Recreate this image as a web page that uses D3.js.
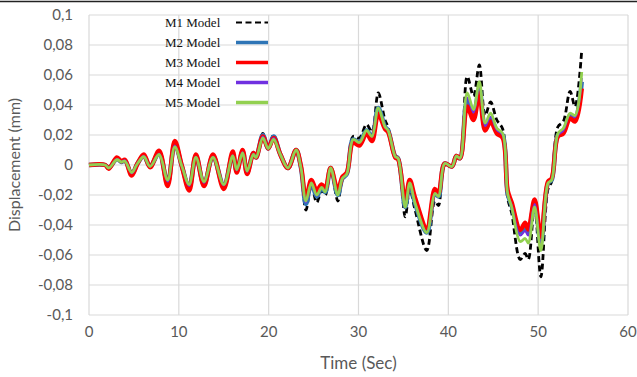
<!DOCTYPE html>
<html>
<head>
<meta charset="utf-8">
<script src="https://cdnjs.cloudflare.com/ajax/libs/d3/7.8.5/d3.min.js"></script>
<style>
  body { margin: 0; background: #fff; }
  svg { display: block; }
</style>
</head>
<body>
<div id="chart"></div>
<script>
// time points (sec)
const time = [0, 1.8, 2.2, 3.1, 3.6, 4.0, 4.75, 5.4, 6.1, 6.8, 7.8, 8.75, 9.55, 10.35, 11.15, 11.9, 12.8, 13.8, 15.0, 16.0,
  16.45, 17.1, 17.6, 18.3, 18.6, 19.35, 19.95, 20.55, 21.3, 22.15, 23.05, 23.6, 24.15, 24.75, 25.35, 25.9, 26.3, 26.9, 27.7, 28.2,
  28.7, 29.4, 30.1, 30.9, 31.5, 32.2, 32.95, 33.3, 34.1, 34.4, 35.2, 35.7, 36.3, 37.6, 38.5, 38.9, 39.6, 40.4, 40.9, 41.3,
  42.1, 42.8, 43.45, 44.1, 44.7, 45.4, 46.05, 46.6, 47.05, 48.0, 48.55, 48.9, 49.6, 50.3, 51.1, 51.5, 52.2, 52.8, 53.55, 54.1, 54.85];

const m1 = [0, 0, -0.002, 0.004, 0.002, 0.003, -0.006, 0.001, 0.006, -0.001, 0.008, -0.012, 0.014, -0.001, -0.015, 0.006, -0.013, 0.006, -0.015, 0.007,
  -0.004, 0.009, -0.005, 0.008, 0.005, 0.021, 0.011, 0.020, 0.007, -0.002, 0.010, -0.003, -0.030, -0.013, -0.025, -0.017, -0.020, -0.002, -0.024, -0.010,
  -0.006, 0.019, 0.018, 0.027, 0.022, 0.048, 0.030, 0.025, 0.006, 0.005, -0.0345, -0.016, -0.030, -0.057, -0.024, -0.027, 0.0, -0.001, 0.006, 0.0045,
  0.059, 0.046, 0.0667, 0.033, 0.042, 0.030, 0.024, -0.022, -0.032, -0.063, -0.059, -0.063, -0.027, -0.0745, -0.016, -0.011, 0.0255, 0.029, 0.049, 0.039, 0.0767];

const m2 = [0, 0, -0.002, 0.004, 0.002, 0.003, -0.006, 0.001, 0.006, -0.001, 0.008, -0.012, 0.014, -0.001, -0.015, 0.006, -0.013, 0.006, -0.014, 0.007,
  -0.004, 0.009, -0.005, 0.008, 0.005, 0.020, 0.011, 0.019, 0.007, -0.002, 0.010, -0.002, -0.026, -0.012, -0.021, -0.015, -0.018, -0.002, -0.020, -0.009,
  -0.006, 0.017, 0.015, 0.023, 0.019, 0.038, 0.0255, 0.023, 0.0055, 0.0045, -0.028, -0.012, -0.0255, -0.045, -0.019, -0.021, 0.001, -0.001, 0.006, 0.0045,
  0.043, 0.034, 0.051, 0.025, 0.031, 0.023, 0.020, -0.019, -0.027, -0.045, -0.041, -0.045, -0.025, -0.052, -0.012, -0.010, 0.020, 0.022, 0.033, 0.031, 0.0555];

const m3 = [0, 0, -0.0025, 0.005, 0.0025, 0.0035, -0.007, 0.001, 0.007, -0.0015, 0.0095, -0.014, 0.016, -0.001, -0.017, 0.007, -0.014, 0.007, -0.016, 0.009,
  -0.005, 0.010, -0.006, 0.008, 0.005, 0.019, 0.011, 0.018, 0.007, -0.002, 0.010, -0.001, -0.022, -0.010, -0.017, -0.013, -0.016, -0.002, -0.017, -0.008,
  -0.005, 0.015, 0.013, 0.021, 0.016, 0.034, 0.024, 0.022, 0.005, 0.004, -0.024, -0.010, -0.022, -0.042, -0.016, -0.019, 0.001, -0.001, 0.006, 0.0045,
  0.039, 0.030, 0.048, 0.023, 0.029, 0.021, 0.018, -0.017, -0.025, -0.0433, -0.0385, -0.043, -0.023, -0.048, -0.011, -0.009, 0.019, 0.021, 0.031, 0.029, 0.051];

const m4 = [0, 0, -0.002, 0.004, 0.002, 0.003, -0.0055, 0.001, 0.006, -0.001, 0.0075, -0.011, 0.013, -0.001, -0.014, 0.0055, -0.012, 0.0055, -0.0135, 0.0065,
  -0.0035, 0.0085, -0.0045, 0.0075, 0.005, 0.019, 0.011, 0.018, 0.007, -0.002, 0.010, -0.002, -0.025, -0.012, -0.0205, -0.015, -0.018, -0.002, -0.020, -0.009,
  -0.006, 0.017, 0.015, 0.023, 0.019, 0.038, 0.0255, 0.023, 0.0055, 0.0045, -0.028, -0.012, -0.0255, -0.045, -0.019, -0.021, 0.001, -0.001, 0.006, 0.0045,
  0.045, 0.035, 0.053, 0.026, 0.032, 0.0235, 0.020, -0.019, -0.027, -0.047, -0.044, -0.047, -0.026, -0.054, -0.012, -0.010, 0.020, 0.023, 0.034, 0.032, 0.058];

const m5 = [0, 0, -0.002, 0.0035, 0.002, 0.0025, -0.005, 0.001, 0.0055, -0.001, 0.007, -0.010, 0.012, -0.001, -0.013, 0.005, -0.011, 0.005, -0.013, 0.006,
  -0.003, 0.008, -0.004, 0.007, 0.005, 0.018, 0.011, 0.017, 0.007, -0.002, 0.010, -0.002, -0.024, -0.012, -0.020, -0.015, -0.018, -0.002, -0.020, -0.009,
  -0.006, 0.017, 0.015, 0.023, 0.019, 0.038, 0.0255, 0.023, 0.0055, 0.0045, -0.028, -0.012, -0.0255, -0.045, -0.019, -0.021, 0.001, -0.001, 0.006, 0.0045,
  0.048, 0.037, 0.0555, 0.028, 0.0345, 0.0245, 0.021, -0.019, -0.028, -0.051, -0.049, -0.052, -0.028, -0.057, -0.012, -0.010, 0.021, 0.0245, 0.0345, 0.033, 0.062];

const seriesNames = ["M1 Model", "M2 Model", "M3 Model", "M4 Model", "M5 Model"];
const xTicks = [0, 10, 20, 30, 40, 50, 60];
const yTicks = [-0.1, -0.08, -0.06, -0.04, -0.02, 0, 0.02, 0.04, 0.06, 0.08, 0.1];
const yTickLabels = ["-0,1", "-0,08", "-0,06", "-0,04", "-0,02", "0", "0,02", "0,04", "0,06", "0,08", "0,1"];

const W = 637, H = 377;
const svg = d3.select("#chart").append("svg")
  .attr("width", W)
  .attr("height", H);

const x = d3.scaleLinear().domain([0, 60]).range([89, 628]);
const y = d3.scaleLinear().domain([-0.1, 0.1]).range([315, 15]);

// figure border line on top
svg.append("line")
  .attr("x1", 0).attr("x2", W)
  .attr("y1", 1.5).attr("y2", 1.5)
  .attr("stroke", "#222")
  .attr("stroke-width", 1.5);

// grid
svg.append("g")
  .selectAll("line")
  .data(yTicks)
  .enter().append("line")
  .attr("x1", x(0)).attr("x2", x(60))
  .attr("y1", d => y(d)).attr("y2", d => y(d))
  .attr("stroke", "#d9d9d9")
  .attr("stroke-width", 1.2);

svg.append("g")
  .selectAll("line")
  .data(xTicks)
  .enter().append("line")
  .attr("x1", d => x(d)).attr("x2", d => x(d))
  .attr("y1", y(0.1)).attr("y2", y(-0.1))
  .attr("stroke", "#d9d9d9")
  .attr("stroke-width", 1.2);

// tick labels
svg.append("g")
  .selectAll("text")
  .data(yTicks)
  .enter().append("text")
  .attr("x", 73)
  .attr("y", d => y(d) + 5)
  .attr("text-anchor", "end")
  .attr("font-family", "Lato, sans-serif")
  .attr("font-size", 15)
  .attr("fill", "#595959")
  .text((d, i) => yTickLabels[i]);

svg.append("g")
  .selectAll("text")
  .data(xTicks)
  .enter().append("text")
  .attr("x", d => x(d))
  .attr("y", 337)
  .attr("text-anchor", "middle")
  .attr("font-family", "Lato, sans-serif")
  .attr("font-size", 15)
  .attr("fill", "#595959")
  .text(d => d);

// axis titles
svg.append("text")
  .attr("x", x(30))
  .attr("y", 369)
  .attr("text-anchor", "middle")
  .attr("font-family", "Lato, sans-serif")
  .attr("font-size", 17)
  .attr("fill", "#595959")
  .text("Time (Sec)");

svg.append("text")
  .attr("transform", "translate(20," + y(0) + ")rotate(-90)")
  .attr("text-anchor", "middle")
  .attr("font-family", "Lato, sans-serif")
  .attr("font-size", 16)
  .attr("fill", "#595959")
  .text("Displacement (mm)");

// series
const series = [
  { name: seriesNames[0], values: m1, color: "#000000", width: 2.8, dash: "6,3.5" },
  { name: seriesNames[1], values: m2, color: "#2e75b6", width: 4.5, dash: null },
  { name: seriesNames[2], values: m3, color: "#ff0000", width: 4.5, dash: null },
  { name: seriesNames[3], values: m4, color: "#7030e0", width: 2.2, dash: null },
  { name: seriesNames[4], values: m5, color: "#92d050", width: 2.8, dash: null }
];

const line = d3.line()
  .x(d => x(d[0]))
  .y(d => y(d[1]))
  .curve(d3.curveCatmullRom.alpha(0.5));

series.forEach(s => {
  svg.append("path")
    .datum(time.map((t, i) => [t, s.values[i]]))
    .attr("d", line)
    .attr("fill", "none")
    .attr("stroke", s.color)
    .attr("stroke-width", s.width)
    .attr("stroke-dasharray", s.dash)
    .attr("stroke-linejoin", "round");
});

// legend
const legend = svg.append("g");
series.forEach((s, i) => {
  const ly = 22.5 + i * 20;
  legend.append("text")
    .attr("x", 165)
    .attr("y", ly + 4.5)
    .attr("font-family", "'Liberation Serif', 'Times New Roman', serif")
    .attr("font-size", 13)
    .attr("fill", "#111")
    .text(s.name);
  legend.append("line")
    .attr("x1", 236).attr("x2", 268)
    .attr("y1", ly).attr("y2", ly)
    .attr("stroke", s.color)
    .attr("stroke-width", i === 0 ? 2 : 3.5)
    .attr("stroke-dasharray", s.dash);
});
</script>
</body>
</html>
